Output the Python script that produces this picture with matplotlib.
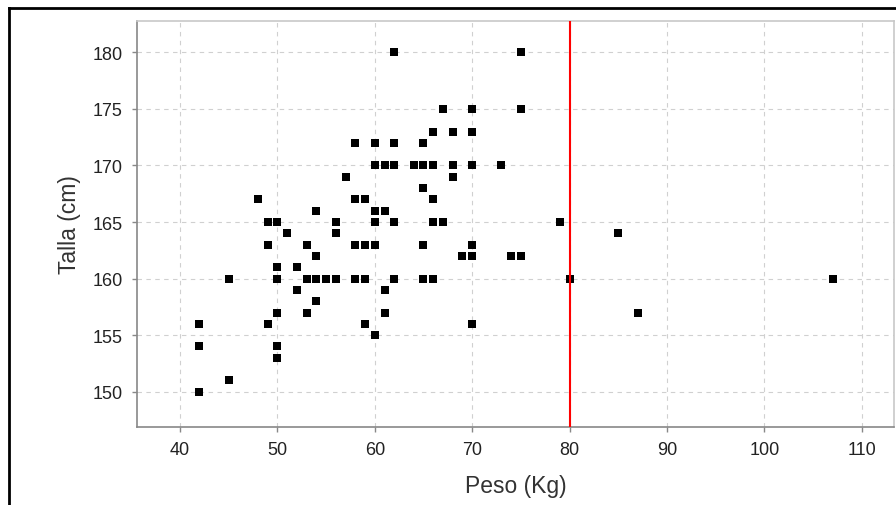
import matplotlib
matplotlib.use("Agg")
import matplotlib.pyplot as plt
from matplotlib.lines import Line2D

plt.rcParams['font.family'] = ['Liberation Sans', 'DejaVu Sans']

# peso (kg) y talla (cm) de cada persona
peso = [62, 75,
        67, 70, 75,
        66, 68, 70,
        58, 60, 62, 65,
        60, 61, 62, 64, 65, 66, 68, 70, 73,
        57, 68,
        65,
        48, 58, 59, 66,
        54, 60, 61,
        49, 50, 56, 60, 62, 66, 67, 79,
        51, 56, 85,
        49, 53, 58, 59, 60, 65, 70,
        54, 69, 70, 74, 75,
        50, 52,
        45, 50, 53, 54, 55, 56, 58, 59, 62, 65, 66, 80, 107,
        52, 61,
        54,
        50, 53, 61, 87,
        42, 49, 59, 70,
        60,
        42, 50,
        50,
        45,
        42]
talla = [180, 180,
         175, 175, 175,
         173, 173, 173,
         172, 172, 172, 172,
         170, 170, 170, 170, 170, 170, 170, 170, 170,
         169, 169,
         168,
         167, 167, 167, 167,
         166, 166, 166,
         165, 165, 165, 165, 165, 165, 165, 165,
         164, 164, 164,
         163, 163, 163, 163, 163, 163, 163,
         162, 162, 162, 162, 162,
         161, 161,
         160, 160, 160, 160, 160, 160, 160, 160, 160, 160, 160, 160, 160,
         159, 159,
         158,
         157, 157, 157, 157,
         156, 156, 156, 156,
         155,
         154, 154,
         153,
         151,
         150]
limite_peso = 80

W, H = 896, 506
fig = plt.figure(figsize=(W / 100, H / 100), dpi=100)
fig.patch.set_facecolor('white')

# marco negro del recorte
fig.add_artist(Line2D([8.5 / W, 8.5 / W], [0, 1 - 9 / H], color='black', lw=2, transform=fig.transFigure))
fig.add_artist(Line2D([8.5 / W, 1], [1 - 9 / H, 1 - 9 / H], color='black', lw=2, transform=fig.transFigure))

x0, x1, y0, y1 = 137.3, 894.3, 22, 427.7
ax = fig.add_axes([x0 / W, 1 - y1 / H, (x1 - x0) / W, (y1 - y0) / H])

ax.scatter(peso, talla, marker='s', s=26, color='black', linewidths=0, zorder=3)
ax.axvline(limite_peso, color='red', lw=1.5, zorder=4)

ax.set_xlim(35.62, 113.34)
ax.set_ylim(146.91, 182.77)
ax.set_xticks(range(40, 111, 10))
ax.set_yticks(range(150, 181, 5))

ax.grid(True, color='#d0d0d0', linestyle=(0, (4, 4)), linewidth=0.8)
ax.set_axisbelow(True)
for side in ['left', 'bottom']:
    ax.spines[side].set_color('#888888')
    ax.spines[side].set_linewidth(1.2)
for side in ['top', 'right']:
    ax.spines[side].set_color('#c8c8c8')
    ax.spines[side].set_linewidth(1.2)

ax.tick_params(axis='both', direction='out', length=3.5, width=1, color='#888888',
               labelsize=13, labelcolor='#222222', pad=7)
ax.set_xlabel('Peso (Kg)', fontsize=16.5, color='#333333', labelpad=11)
ax.set_ylabel('Talla (cm)', fontsize=16.5, color='#333333', labelpad=8)

fig.savefig('out.png', dpi=100)
